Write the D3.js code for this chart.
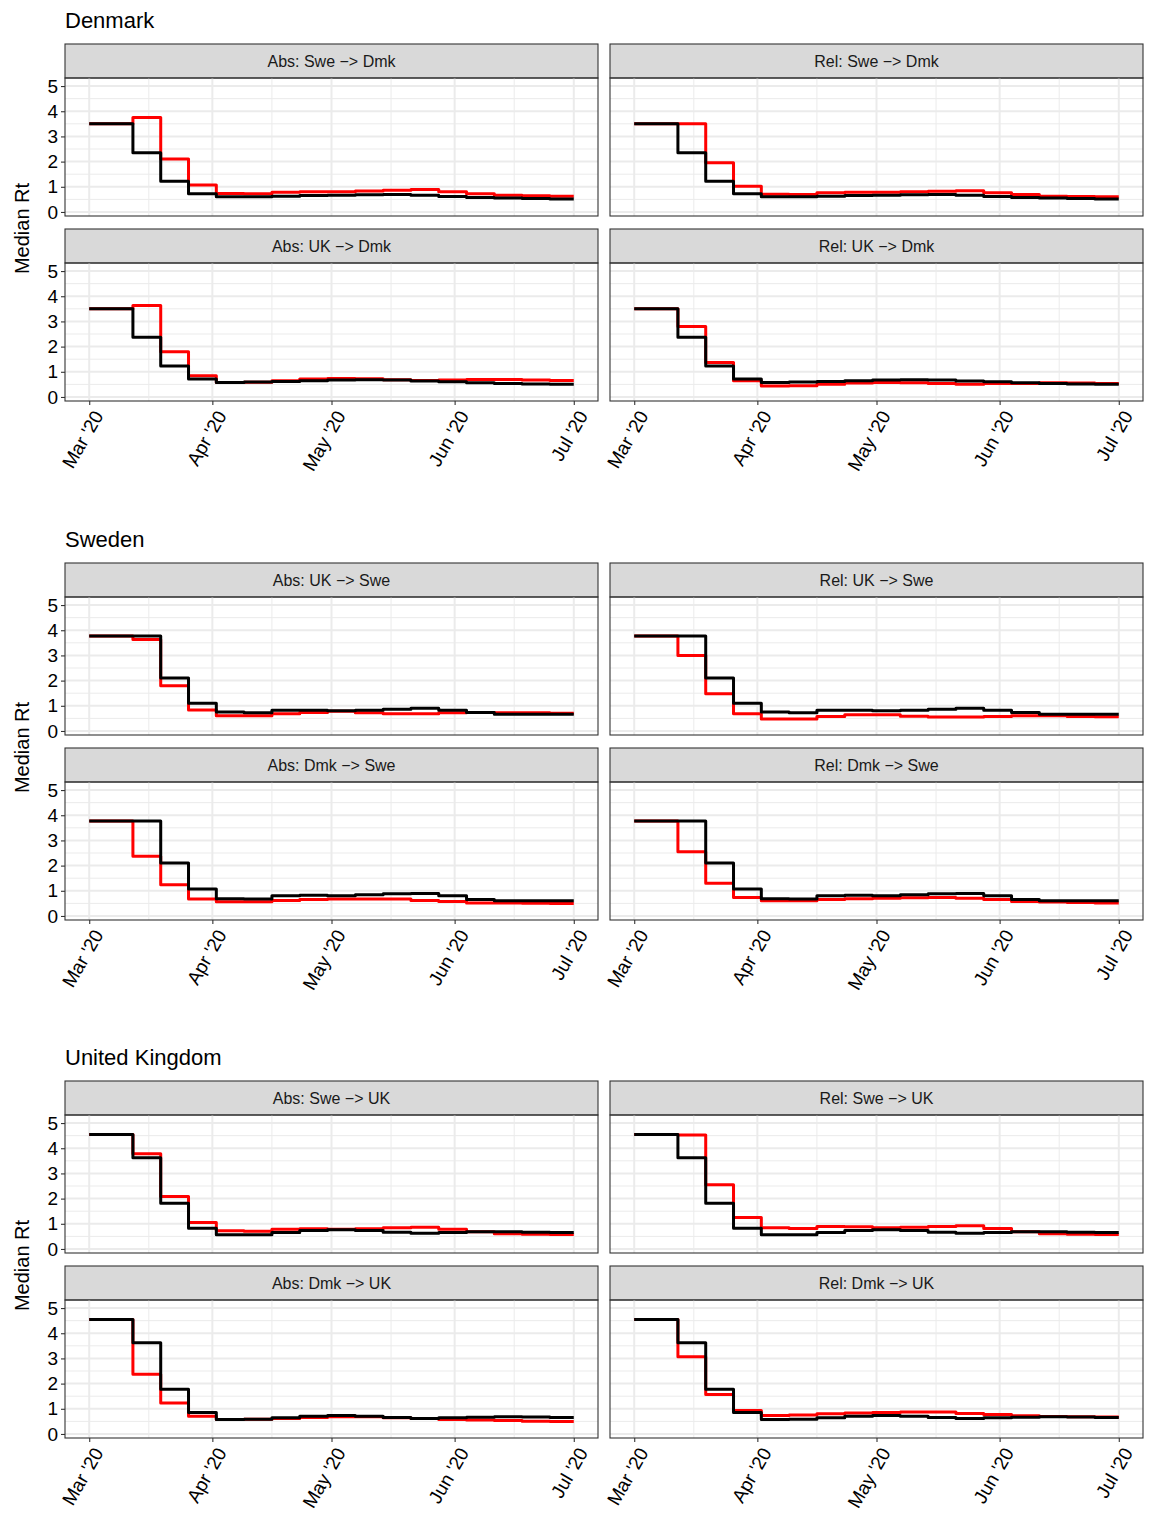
<!DOCTYPE html>
<html>
<head>
<meta charset="utf-8">
<script src="https://cdn.jsdelivr.net/npm/d3@7"></script>
<style>
  body { margin: 0; background: #fff; font-family: "Liberation Sans", Arial, sans-serif; }
</style>
</head>
<body>
<svg id="chart" width="1154" height="1526"></svg>
<script>
// day offsets from 1 Mar 2020 where each weekly step begins; last value is the end (1 Jul)
const stepDays = [0, 11, 18, 25, 32, 39, 46, 53, 60, 67, 74, 81, 88, 95, 102, 109, 116, 122];
const xTickLabels = ["Mar '20", "Apr '20", "May '20", "Jun '20", "Jul '20"];
const countries = ["Denmark", "Sweden", "United Kingdom"];

// panel titles per country, in order: top-left, top-right, bottom-left, bottom-right
const panelTitles = [
  ["Abs: Swe \u2212> Dmk", "Rel: Swe \u2212> Dmk", "Abs: UK \u2212> Dmk", "Rel: UK \u2212> Dmk"],
  ["Abs: UK \u2212> Swe", "Rel: UK \u2212> Swe", "Abs: Dmk \u2212> Swe", "Rel: Dmk \u2212> Swe"],
  ["Abs: Swe \u2212> UK", "Rel: Swe \u2212> UK", "Abs: Dmk \u2212> UK", "Rel: Dmk \u2212> UK"]
];

// observed (black) median Rt
const blackDk1 = [3.5, 2.35, 1.22, 0.72, 0.6, 0.6, 0.62, 0.65, 0.66, 0.68, 0.69, 0.66, 0.61, 0.57, 0.55, 0.53, 0.52];
const blackDk2 = [3.5, 2.37, 1.23, 0.71, 0.57, 0.59, 0.61, 0.64, 0.67, 0.68, 0.67, 0.63, 0.6, 0.56, 0.53, 0.52, 0.51];
const blackSe1 = [3.77, 3.77, 2.1, 1.1, 0.75, 0.72, 0.82, 0.82, 0.8, 0.82, 0.86, 0.9, 0.82, 0.73, 0.66, 0.66, 0.66];
const blackSe2 = [3.77, 3.77, 2.1, 1.07, 0.68, 0.67, 0.8, 0.82, 0.8, 0.84, 0.88, 0.89, 0.8, 0.65, 0.6, 0.6, 0.6];
const blackUk1 = [4.55, 3.62, 1.82, 0.82, 0.56, 0.56, 0.65, 0.73, 0.76, 0.73, 0.66, 0.62, 0.65, 0.68, 0.68, 0.66, 0.65];
const blackUk2 = [4.55, 3.62, 1.78, 0.85, 0.57, 0.58, 0.64, 0.7, 0.73, 0.7, 0.65, 0.61, 0.64, 0.66, 0.68, 0.67, 0.65];

// counterfactual (red) median Rt
const redDkAbsSwe = [3.5, 3.75, 2.1, 1.07, 0.73, 0.72, 0.78, 0.8, 0.8, 0.83, 0.86, 0.89, 0.8, 0.72, 0.66, 0.64, 0.62];
const redDkRelSwe = [3.5, 3.5, 1.95, 1.02, 0.7, 0.69, 0.76, 0.78, 0.78, 0.8, 0.82, 0.84, 0.76, 0.69, 0.62, 0.61, 0.6];
const redDkAbsUk = [3.5, 3.63, 1.8, 0.84, 0.57, 0.58, 0.64, 0.71, 0.73, 0.72, 0.68, 0.65, 0.67, 0.69, 0.69, 0.67, 0.65];
const redDkRelUk = [3.5, 2.8, 1.37, 0.64, 0.44, 0.45, 0.51, 0.55, 0.57, 0.56, 0.53, 0.51, 0.53, 0.53, 0.56, 0.55, 0.53];
const redSeAbsUk = [3.77, 3.63, 1.8, 0.83, 0.6, 0.6, 0.68, 0.73, 0.78, 0.72, 0.68, 0.68, 0.72, 0.73, 0.72, 0.72, 0.7];
const redSeRelUk = [3.77, 3.0, 1.48, 0.68, 0.48, 0.48, 0.57, 0.64, 0.64, 0.58, 0.55, 0.55, 0.57, 0.6, 0.6, 0.57, 0.56];
const redSeAbsDk = [3.77, 2.37, 1.24, 0.67, 0.56, 0.56, 0.61, 0.65, 0.67, 0.67, 0.67, 0.61, 0.57, 0.52, 0.52, 0.51, 0.5];
const redSeRelDk = [3.77, 2.55, 1.3, 0.73, 0.6, 0.6, 0.65, 0.68, 0.7, 0.72, 0.73, 0.7, 0.65, 0.57, 0.55, 0.53, 0.52];
const redUkAbsSwe = [4.55, 3.78, 2.08, 1.05, 0.72, 0.7, 0.78, 0.8, 0.78, 0.8, 0.84, 0.86, 0.78, 0.68, 0.6, 0.58, 0.57];
const redUkRelSwe = [4.55, 4.53, 2.55, 1.25, 0.84, 0.81, 0.89, 0.88, 0.84, 0.86, 0.89, 0.92, 0.81, 0.68, 0.6, 0.58, 0.57];
const redUkAbsDk = [4.55, 2.37, 1.23, 0.7, 0.57, 0.58, 0.61, 0.65, 0.68, 0.68, 0.64, 0.61, 0.57, 0.55, 0.53, 0.51, 0.5];
const redUkRelDk = [4.55, 3.07, 1.57, 0.93, 0.73, 0.75, 0.8, 0.83, 0.85, 0.87, 0.87, 0.81, 0.77, 0.72, 0.69, 0.68, 0.67];

const redSeries = [
  [redDkAbsSwe, redDkRelSwe, redDkAbsUk, redDkRelUk],
  [redSeAbsUk, redSeRelUk, redSeAbsDk, redSeRelDk],
  [redUkAbsSwe, redUkRelSwe, redUkAbsDk, redUkRelDk]
];
const blackSeries = [
  [blackDk1, blackDk1, blackDk2, blackDk2],
  [blackSe1, blackSe1, blackSe2, blackSe2],
  [blackUk1, blackUk1, blackUk2, blackUk2]
];

const svg = d3.select("#chart");
const start = new Date(2020, 2, 1);
const dayDate = d => d3.timeDay.offset(start, d);

// layout
const groupTop = [0, 519, 1037];
const panelLeft = [65, 610];
const panelW = 533;
const stripH = 34;
const plotH = 138;
const rowStep = 185;
const stripTop = 44;

const x = d3.scaleTime()
  .domain([start, new Date(2020, 6, 1)])
  .range([panelW * 0.05 / 1.1, panelW - panelW * 0.05 / 1.1]);
const y = d3.scaleLinear().domain([-0.16, 5.32]).range([plotH, 0]);

const monthTicks = d3.timeMonth.range(start, new Date(2020, 6, 2));
const midTicks = monthTicks.slice(0, -1).map(d => d3.timeDay.offset(d, 15));

const line = d3.line()
  .x(d => x(d.date))
  .y(d => y(d.v))
  .curve(d3.curveStepAfter);

const toPoints = vals => {
  const pts = vals.map((v, i) => ({ date: dayDate(stepDays[i]), v }));
  pts.push({ date: dayDate(stepDays[stepDays.length - 1]), v: vals[vals.length - 1] });
  return pts;
};

countries.forEach((country, ci) => {
  const g = svg.append("g").attr("transform", `translate(0, ${groupTop[ci]})`);

  g.append("text").text(country)
    .attr("x", 65).attr("y", 28)
    .attr("font-size", 22).attr("fill", "#000");

  g.append("text").text("Median Rt")
    .attr("transform", `translate(29, ${stripTop + rowStep / 2 + stripH / 2 + plotH / 2 + 6}) rotate(-90)`)
    .attr("text-anchor", "middle")
    .attr("font-size", 20).attr("fill", "#000");

  for (let p = 0; p < 4; p++) {
    const col = p % 2, row = Math.floor(p / 2);
    const px = panelLeft[col];
    const sy = stripTop + row * rowStep;
    const pg = g.append("g").attr("transform", `translate(${px}, ${sy})`);

    // strip
    pg.append("rect").attr("width", panelW).attr("height", stripH)
      .attr("fill", "#d9d9d9").attr("stroke", "#333").attr("stroke-width", 1.1);
    pg.append("text").text(panelTitles[ci][p])
      .attr("x", panelW / 2).attr("y", stripH / 2 + 5.5)
      .attr("text-anchor", "middle").attr("font-size", 16).attr("fill", "#1a1a1a");

    const plot = pg.append("g").attr("transform", `translate(0, ${stripH})`);

    // grid
    const minorY = d3.range(0.5, 5.5, 1);
    plot.selectAll(".gmy").data(minorY).join("line")
      .attr("x1", 0).attr("x2", panelW)
      .attr("y1", d => y(d)).attr("y2", d => y(d))
      .attr("stroke", "#ebebeb").attr("stroke-width", 1);
    plot.selectAll(".gmx").data(midTicks).join("line")
      .attr("y1", 0).attr("y2", plotH)
      .attr("x1", d => x(d)).attr("x2", d => x(d))
      .attr("stroke", "#ebebeb").attr("stroke-width", 1);
    plot.selectAll(".gy").data(d3.range(0, 6)).join("line")
      .attr("x1", 0).attr("x2", panelW)
      .attr("y1", d => y(d)).attr("y2", d => y(d))
      .attr("stroke", "#ebebeb").attr("stroke-width", 2);
    plot.selectAll(".gx").data(monthTicks).join("line")
      .attr("y1", 0).attr("y2", plotH)
      .attr("x1", d => x(d)).attr("x2", d => x(d))
      .attr("stroke", "#ebebeb").attr("stroke-width", 2);

    // lines
    plot.append("path").datum(toPoints(redSeries[ci][p]))
      .attr("d", line).attr("fill", "none")
      .attr("stroke", "#ff0000").attr("stroke-width", 3).attr("stroke-linejoin", "round");
    plot.append("path").datum(toPoints(blackSeries[ci][p]))
      .attr("d", line).attr("fill", "none")
      .attr("stroke", "#000").attr("stroke-width", 3).attr("stroke-linejoin", "round");

    // border
    plot.append("rect").attr("width", panelW).attr("height", plotH)
      .attr("fill", "none").attr("stroke", "#333").attr("stroke-width", 1.1);

    // y axis on left column
    if (col === 0) {
      const ya = plot.append("g").call(d3.axisLeft(y).tickValues(d3.range(0, 6))
        .tickFormat(d3.format("d")).tickSize(4).tickPadding(3));
      ya.select(".domain").remove();
      ya.selectAll("line").attr("stroke", "#333").attr("stroke-width", 1.1);
      ya.selectAll("text").attr("font-size", 19).attr("fill", "#000")
        .attr("font-family", "Liberation Sans, Arial, sans-serif");
    }

    // x axis on bottom row
    if (row === 1) {
      const xa = plot.append("g").attr("transform", `translate(0, ${plotH})`)
        .call(d3.axisBottom(x).tickValues(monthTicks).tickSize(4)
          .tickFormat((d, i) => xTickLabels[i]));
      xa.select(".domain").remove();
      xa.selectAll("line").attr("stroke", "#333").attr("stroke-width", 1.1);
      xa.selectAll("text")
        .attr("font-size", 19).attr("fill", "#000")
        .attr("font-family", "Liberation Sans, Arial, sans-serif")
        .attr("text-anchor", "end")
        .attr("dy", null).attr("y", 0)
        .attr("transform", "translate(10, 12) rotate(-60)")
        .attr("dominant-baseline", "middle");
    }
  }
});
</script>
</body>
</html>
